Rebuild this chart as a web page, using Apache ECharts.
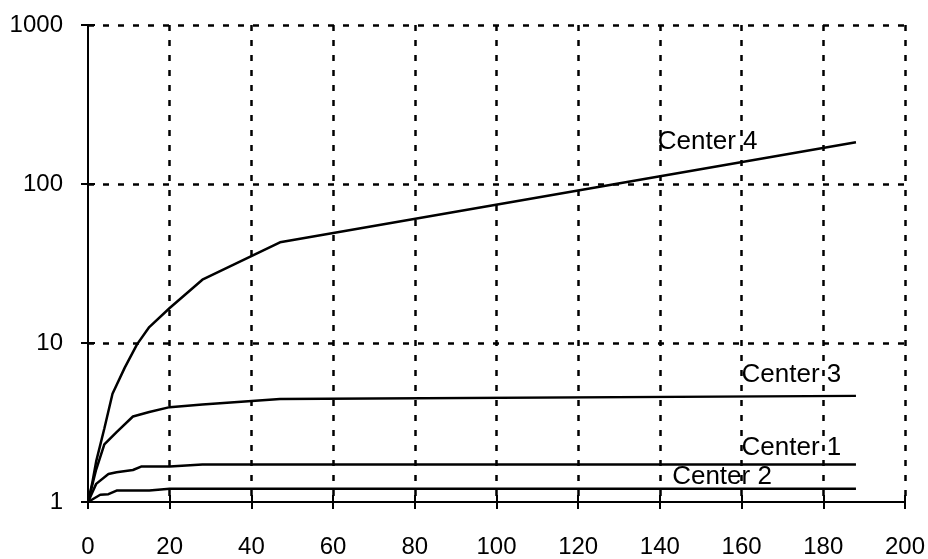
<!DOCTYPE html>
<html>
<head>
<meta charset="utf-8">
<script src="https://cdn.jsdelivr.net/npm/echarts@6/dist/echarts.min.js"></script>
<style>
  html, body { margin: 0; padding: 0; background: #fff; }
  #chart { width: 928px; height: 559px; }
</style>
</head>
<body>
<div id="chart"></div>
<script>
// Cumulative growth per center over time (log scale)
const center4 = [[0, 1], [1, 1.3], [2, 1.8], [4, 2.9], [6, 4.8], [9, 7], [12, 9.8], [15, 12.6], [20, 16.6], [28, 25], [47, 43], [188, 183]];
const center3 = [[0, 1], [2, 1.6], [4, 2.3], [7, 2.75], [11, 3.45], [15, 3.68], [20, 3.95], [28, 4.1], [47, 4.45], [188, 4.65]];
const center1 = [[0, 1], [2, 1.3], [5, 1.5], [7, 1.54], [11, 1.59], [13, 1.67], [20, 1.67], [28, 1.72], [188, 1.72]];
const center2 = [[0, 1], [3, 1.11], [5, 1.12], [7, 1.18], [15, 1.18], [20, 1.21], [188, 1.21]];

const seriesNames = ['Center 4', 'Center 3', 'Center 1', 'Center 2'];
// Where each series name is written, in data coordinates (left edge, vertical middle)
const labelAnchors = [[139.5, 185], [160, 6.35], [160, 2.18], [143, 1.44]];

const xMin = 0, xMax = 200, xStep = 20;
const yMin = 1, yMax = 1000;

const FONT = 'Liberation Sans, Arial, sans-serif';
const gridLine = { show: true, showMinLine: false, lineStyle: { color: '#000', width: 2.5, type: [6, 9] } };

const chart = echarts.init(document.getElementById('chart'), null, { renderer: 'canvas' });

function lineSeries(name, data, anchor) {
  return {
    name: name,
    type: 'line',
    data: data,
    xAxisIndex: 0,
    yAxisIndex: 0,
    symbol: 'none',
    smooth: false,
    silent: true,
    z: 3,
    lineStyle: { color: '#000', width: 2.5 },
    markPoint: {
      symbol: 'circle',
      symbolSize: 0,
      silent: true,
      data: [{
        coord: anchor,
        label: {
          show: true,
          position: 'right',
          distance: 0,
          formatter: name,
          color: '#000',
          fontFamily: FONT,
          fontSize: 26
        }
      }]
    }
  };
}

chart.setOption({
  animation: false,
  backgroundColor: '#fff',
  grid: { left: 88, right: 23, top: 25, bottom: 56, containLabel: false },
  xAxis: [
    {
      type: 'value', min: xMin, max: xMax, interval: xStep, z: 2,
      axisLine: { show: true, onZero: false, lineStyle: { color: '#000', width: 2 } },
      axisTick: { show: true, inside: false, length: 7, lineStyle: { color: '#000', width: 2 } },
      axisLabel: { color: '#000', fontFamily: FONT, fontSize: 24, margin: 33 },
      splitLine: gridLine
    },
    {
      type: 'value', min: xMin, max: xMax, interval: xStep, position: 'bottom', z: 2,
      axisLine: { show: false },
      axisTick: { show: true, inside: true, length: 7, lineStyle: { color: '#000', width: 2 } },
      axisLabel: { show: false },
      splitLine: { show: false }
    }
  ],
  yAxis: [
    {
      type: 'log', logBase: 10, min: yMin, max: yMax, z: 2,
      axisLine: { show: true, onZero: false, lineStyle: { color: '#000', width: 2 } },
      axisTick: { show: true, inside: false, length: 7, lineStyle: { color: '#000', width: 2 } },
      axisLabel: { color: '#000', fontFamily: FONT, fontSize: 24, margin: 25, formatter: v => String(Math.round(v)) },
      minorTick: { show: false },
      splitLine: gridLine
    },
    {
      type: 'log', logBase: 10, min: yMin, max: yMax, position: 'left', z: 2,
      axisLine: { show: false },
      axisTick: { show: true, inside: true, length: 7, lineStyle: { color: '#000', width: 2 } },
      axisLabel: { show: false },
      splitLine: { show: false }
    }
  ],
  series: [
    lineSeries(seriesNames[0], center4, labelAnchors[0]),
    lineSeries(seriesNames[1], center3, labelAnchors[1]),
    lineSeries(seriesNames[2], center1, labelAnchors[2]),
    lineSeries(seriesNames[3], center2, labelAnchors[3])
  ]
});
</script>
</body>
</html>
